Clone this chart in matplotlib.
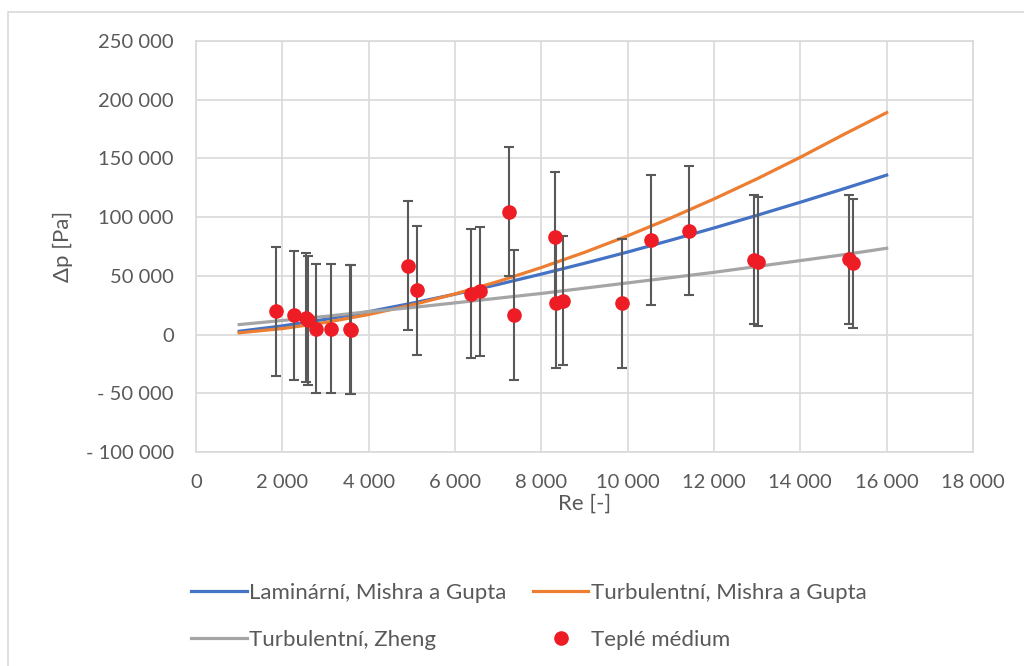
import matplotlib.pyplot as plt
from matplotlib.patches import Rectangle
from matplotlib.ticker import FuncFormatter

# Křivky
re_line = [1000, 2000, 3000, 4000, 5000, 6000, 7000, 8000,
           9000, 10000, 11000, 12000, 13000, 14000, 15000, 16000]
lam_mishra = [2800, 7400, 13000, 19500, 26700, 34400, 42700, 51500,
              60700, 70300, 80400, 90800, 101600, 112700, 124100, 135800]
turb_mishra = [1500, 5100, 10300, 17100, 25200, 34600, 45200, 57100,
               70000, 84100, 99300, 115500, 132700, 151000, 170300, 189000]
turb_zheng = [8500, 12000, 15500, 19500, 23000, 27000, 31000, 35000,
              39500, 44000, 48500, 53000, 58000, 63000, 68000, 73500]

# Naměřené body - teplé médium
re_meas = [1850, 2260, 2540, 2600, 2790, 3130, 3560, 3590, 4910, 5120, 6360, 6590,
           7250, 7360, 8320, 8330, 8500, 9860, 10540, 11420, 12920, 13020, 15130, 15210]
dp_meas = [19700, 16400, 14500, 12000, 5100, 5100, 4500, 4000, 58700, 37600, 34700, 36700,
           104800, 16700, 83300, 26800, 28800, 26800, 80500, 88400, 63600, 62100, 64100, 60700]
dp_err = [55000] * len(re_meas)

plt.rcParams['font.family'] = ['Lato', 'DejaVu Sans']
txt = '#595959'

fig = plt.figure(figsize=(10.24, 6.66), dpi=100)
fig.patches.append(Rectangle((8 / 1024, -0.1), 1.2, 1.1 - 11.5 / 666, transform=fig.transFigure,
                             fill=False, edgecolor='#d9d9d9', linewidth=1.2))
ax = fig.add_axes([196 / 1024, 1 - 452 / 666, (973 - 196) / 1024, (452 - 41) / 666])

l1, = ax.plot(re_line, lam_mishra, color='#4472C4', lw=2.3, zorder=3)
l2, = ax.plot(re_line, turb_mishra, color='#ED7D31', lw=2.3, zorder=3)
l3, = ax.plot(re_line, turb_zheng, color='#A5A5A5', lw=2.3, zorder=3)
ax.errorbar(re_meas, dp_meas, yerr=dp_err, fmt='none', ecolor='#595959',
            elinewidth=1.5, capsize=3.5, capthick=1.5, zorder=4)
pts, = ax.plot(re_meas, dp_meas, 'o', color='#EE1C25', ms=9.5, zorder=5)

ax.set_xlim(0, 18000)
ax.set_ylim(-100000, 250000)
ax.set_xticks(range(0, 18001, 2000))
ax.set_yticks(range(-100000, 250001, 50000))


def fmt(v, pos):
    s = f'{abs(int(v)):,}'.replace(',', ' ')
    return ('- ' + s) if v < 0 else s


ax.xaxis.set_major_formatter(FuncFormatter(fmt))
ax.yaxis.set_major_formatter(FuncFormatter(fmt))
ax.grid(True, color='#d9d9d9', lw=1.2)
ax.set_axisbelow(True)
for sp in ax.spines.values():
    sp.set_color('#d9d9d9')
    sp.set_linewidth(1.2)
ax.tick_params(length=0, labelsize=14.5, colors=txt)
ax.tick_params(axis='y', pad=16)
ax.tick_params(axis='x', pad=16)
ax.set_xlabel('Re [-]', fontsize=16, color=txt, labelpad=2)
ax.set_ylabel('Δp [Pa]', fontsize=16, color=txt, labelpad=9)

# pořadí tak, aby se legenda plnila po řádcích
fig.legend([l1, l3, l2, pts],
           ['Laminární, Mishra a Gupta', 'Turbulentní, Zheng',
            'Turbulentní, Mishra a Gupta', 'Teplé médium'],
           loc='upper left', bbox_to_anchor=(171 / 1024, 1 - 563 / 666), ncol=2,
           frameon=False, fontsize=16, labelcolor=txt, handlelength=2.5,
           handletextpad=0.1, columnspacing=1.2, labelspacing=1.2)

fig.savefig('out.png', dpi=100)
